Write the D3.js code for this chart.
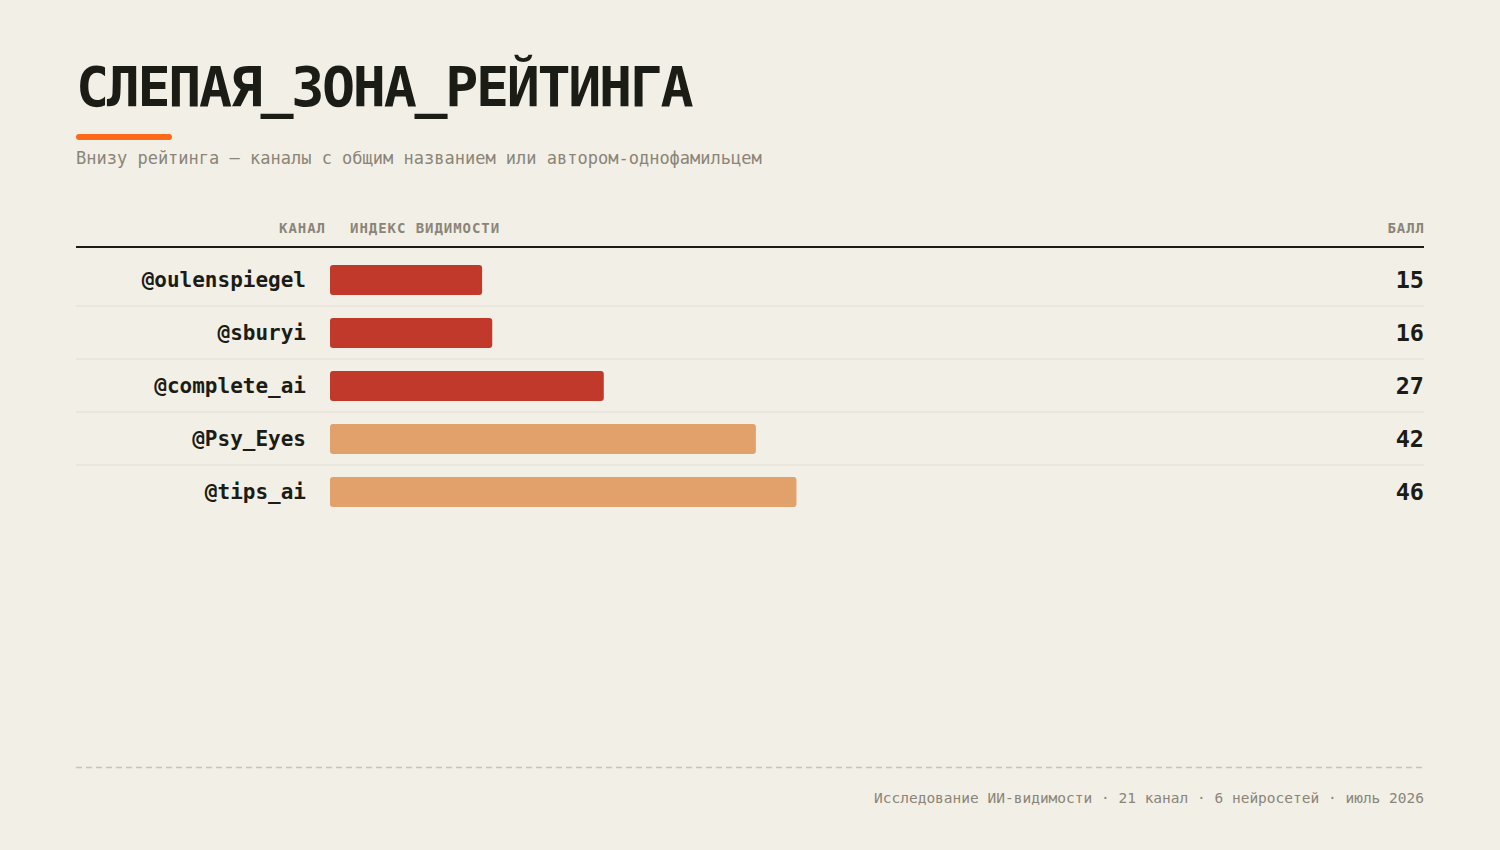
<!DOCTYPE html>
<html>
<head>
<meta charset="utf-8">
<script src="https://cdn.jsdelivr.net/npm/d3@7"></script>
<style>
  body { margin: 0; background: #f2efe6; }
  svg { display: block; font-family: "DejaVu Sans Mono", monospace; }
</style>
</head>
<body>
<div id="chart"></div>
<script>
const channels = ["@oulenspiegel", "@sburyi", "@complete_ai", "@Psy_Eyes", "@tips_ai"];
const scores = [15, 16, 27, 42, 46];
const headers = ["КАНАЛ", "ИНДЕКС ВИДИМОСТИ", "БАЛЛ"];
const title = "СЛЕПАЯ_ЗОНА_РЕЙТИНГА";
const subtitle = "Внизу рейтинга — каналы с общим названием или автором-однофамильцем";
const footer = "Исследование ИИ-видимости · 21 канал · 6 нейросетей · июль 2026";

const width = 1500, height = 850;
const left = 76, right = 1424;
const barX0 = 330;

const svg = d3.select("#chart").append("svg")
    .attr("width", width)
    .attr("height", height);

svg.append("rect").attr("width", width).attr("height", height).attr("fill", "#f2efe6");

// title block
svg.append("text")
    .attr("x", left).attr("y", 106)
    .attr("font-size", 55).attr("font-weight", "bold")
    .attr("letter-spacing", "-2.35px")
    .attr("fill", "#1c1c16")
    .text(title);

svg.append("rect")
    .attr("x", left).attr("y", 134)
    .attr("width", 96).attr("height", 6).attr("rx", 3)
    .attr("fill", "#ff6a1a");

svg.append("text")
    .attr("x", left).attr("y", 164)
    .attr("font-size", 17)
    .attr("fill", "#8a8578")
    .text(subtitle);

// column headers
const hdr = svg.append("g")
    .attr("font-size", 14).attr("font-weight", "bold")
    .attr("letter-spacing", "0.95px").attr("fill", "#8a8578");
hdr.append("text").attr("x", 326).attr("y", 233).attr("text-anchor", "end").text(headers[0]);
hdr.append("text").attr("x", 350).attr("y", 233).text(headers[1]);
hdr.append("text").attr("x", 1425).attr("y", 233).attr("text-anchor", "end").text(headers[2]);

svg.append("line")
    .attr("x1", left).attr("x2", right)
    .attr("y1", 247).attr("y2", 247)
    .attr("stroke", "#1c1c16").attr("stroke-width", 2);

// scales
const x = d3.scaleLinear().domain([0, 100]).range([barX0, 1344]);
const y = d3.scaleBand().domain(channels).range([253, 253 + 53 * channels.length]).padding(0);
const color = d3.scaleThreshold().domain([30]).range(["#c0392b", "#e2a06b"]);

const rows = svg.append("g").selectAll("g")
    .data(channels)
    .join("g")
    .attr("transform", d => `translate(0,${y(d)})`);

rows.filter((d, i) => i < channels.length - 1)
    .append("line")
    .attr("x1", left).attr("x2", right)
    .attr("y1", y.bandwidth()).attr("y2", y.bandwidth())
    .attr("stroke", "#e2ded3").attr("stroke-width", 1);

rows.append("rect")
    .attr("x", x(0))
    .attr("y", 12)
    .attr("height", 30)
    .attr("width", (d, i) => x(scores[i]) - x(0))
    .attr("rx", 3)
    .attr("fill", (d, i) => color(scores[i]));

rows.append("text")
    .attr("x", 306).attr("y", 34)
    .attr("text-anchor", "end")
    .attr("font-size", 21).attr("font-weight", "bold")
    .attr("fill", "#1c1c16")
    .text(d => d);

rows.append("text")
    .attr("x", right).attr("y", 35)
    .attr("text-anchor", "end")
    .attr("font-size", 23.5).attr("font-weight", "bold")
    .attr("fill", "#1c1c16")
    .text((d, i) => scores[i]);

// footer
svg.append("line")
    .attr("x1", left).attr("x2", right)
    .attr("y1", 767.5).attr("y2", 767.5)
    .attr("stroke", "#c9c4b5").attr("stroke-width", 1.5)
    .attr("stroke-dasharray", "6,4");

svg.append("text")
    .attr("x", right).attr("y", 803)
    .attr("text-anchor", "end")
    .attr("font-size", 14.5)
    .attr("fill", "#8a8578")
    .text(footer);
</script>
</body>
</html>
